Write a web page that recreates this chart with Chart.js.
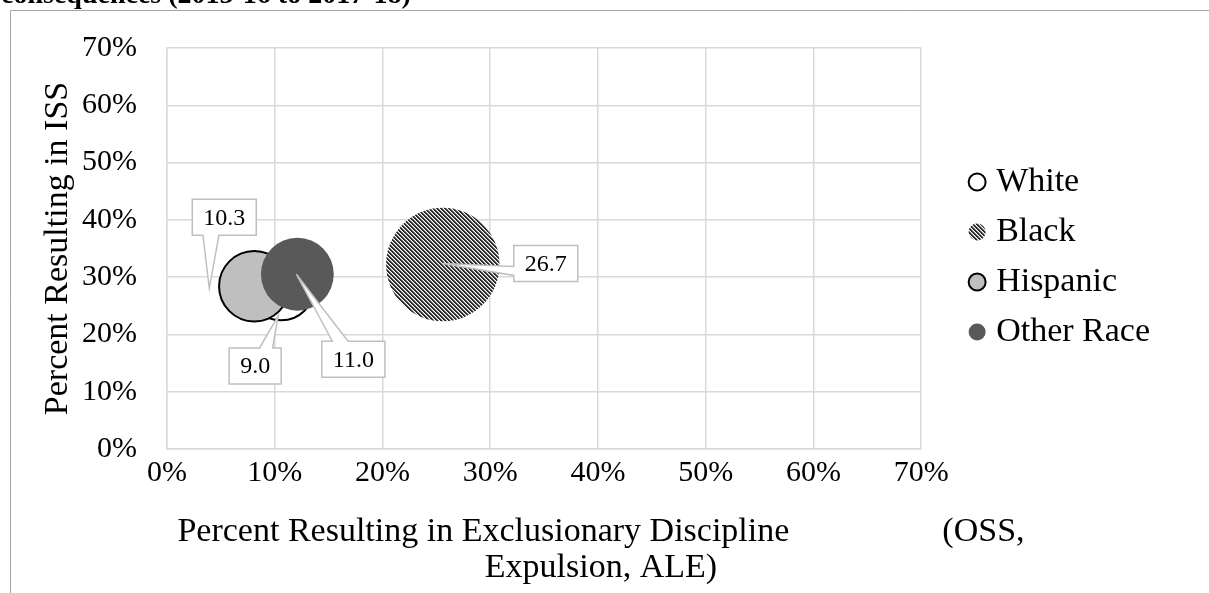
<!DOCTYPE html>
<html>
<head>
<meta charset="utf-8">
<script src="https://cdn.jsdelivr.net/npm/chart.js@4.4.1/dist/chart.umd.min.js"></script>
<style>
  html, body { margin: 0; padding: 0; background: #fff; }
  #wrap { position: relative; width: 1209px; height: 593px; }
</style>
</head>
<body>
<div id="wrap"><canvas id="chart"></canvas></div>
<script>
// Race groups, their rates (percent) and bubble sizes (percent of referrals)
const categories = ['White', 'Black', 'Hispanic', 'Other Race'];
const exclusionaryPct = [10.6, 25.6, 8.1, 12.1];
const issPct = [28.2, 32.2, 28.4, 30.5];
const sizeValues = [9.0, 26.7, 10.3, 11.0];
const axisTicks = [0, 10, 20, 30, 40, 50, 60, 70];

const SERIF = '"Liberation Serif", "Times New Roman", serif';
const GRID = '#d9d9d9';
const MAX_RADIUS = 56.7;

// wide downward diagonal hatch for the Black series
function makeStripes() {
  const tile = document.createElement('canvas');
  tile.width = 4; tile.height = 4;
  const t = tile.getContext('2d');
  const shades = ['#2b2b2b', '#2b2b2b', '#9a9a9a', '#ffffff'];
  for (let y = 0; y < 4; y++) {
    for (let x = 0; x < 4; x++) {
      t.fillStyle = shades[(((x - y) % 4) + 4) % 4];
      t.fillRect(x, y, 1, 1);
    }
  }
  return document.getElementById('chart').getContext('2d').createPattern(tile, 'repeat');
}
const stripes = makeStripes();

const fills = ['#ffffff', stripes, '#bfbfbf', '#595959'];
const strokes = ['#000000', 'rgba(0,0,0,0)', '#000000', '#595959'];
const strokeWidths = [2, 0, 2, 0];
// later series are painted over earlier ones
const drawOrder = [3, 2, 1, 0];

// callout boxes: box centre and pointer tip, relative to the bubble centre
const calloutLayout = [
  { dx: -26, dy: 78.5, tx: -3, ty: 28.5 },
  { dx: 103, dy: -1, tx: 0, ty: -1 },
  { dx: -30, dy: -69, tx: -45, ty: 2 },
  { dx: 56, dy: 85, tx: -1, ty: 0 }
];

const maxSize = Math.max(...sizeValues);
const datasets = categories.map((name, i) => ({
  label: name,
  data: [{ x: exclusionaryPct[i], y: issPct[i], r: MAX_RADIUS * Math.sqrt(sizeValues[i] / maxSize) }],
  backgroundColor: fills[i],
  borderColor: strokes[i],
  borderWidth: strokeWidths[i],
  order: drawOrder[i]
}));

function calloutPath(ctx, x0, y0, w, h, tx, ty) {
  const cx = x0 + w / 2, cy = y0 + h / 2;
  const rx = (tx - cx) / w, ry = (ty - cy) / h;
  const vertical = Math.abs(ry) >= Math.abs(rx);
  const edge = vertical ? (ry < 0 ? 'top' : 'bottom') : (rx < 0 ? 'left' : 'right');
  const hx = tx < cx ? [2 / 12, 5 / 12] : [7 / 12, 10 / 12];
  const hy = ty < cy ? [2 / 12, 5 / 12] : [7 / 12, 10 / 12];
  ctx.beginPath();
  ctx.moveTo(x0, y0);
  if (edge === 'top') {
    ctx.lineTo(x0 + w * hx[0], y0); ctx.lineTo(tx, ty); ctx.lineTo(x0 + w * hx[1], y0);
  }
  ctx.lineTo(x0 + w, y0);
  if (edge === 'right') {
    ctx.lineTo(x0 + w, y0 + h * hy[0]); ctx.lineTo(tx, ty); ctx.lineTo(x0 + w, y0 + h * hy[1]);
  }
  ctx.lineTo(x0 + w, y0 + h);
  if (edge === 'bottom') {
    ctx.lineTo(x0 + w * hx[1], y0 + h); ctx.lineTo(tx, ty); ctx.lineTo(x0 + w * hx[0], y0 + h);
  }
  ctx.lineTo(x0, y0 + h);
  if (edge === 'left') {
    ctx.lineTo(x0, y0 + h * hy[1]); ctx.lineTo(tx, ty); ctx.lineTo(x0, y0 + h * hy[0]);
  }
  ctx.closePath();
}

const calloutPlugin = {
  id: 'callouts',
  afterDatasetsDraw(chart) {
    const ctx = chart.ctx;
    ctx.save();
    ctx.font = '24px ' + SERIF;
    ctx.textAlign = 'center';
    ctx.textBaseline = 'middle';
    chart.data.datasets.forEach((ds, i) => {
      const el = chart.getDatasetMeta(i).data[0];
      if (!el) return;
      const text = sizeValues[i].toFixed(1);
      const lay = calloutLayout[i];
      const w = ctx.measureText(text).width + 22;
      const h = 36;
      const bx = el.x + lay.dx - w / 2;
      const by = el.y + lay.dy - h / 2;
      calloutPath(ctx, bx, by, w, h, el.x + lay.tx, el.y + lay.ty);
      ctx.fillStyle = '#ffffff';
      ctx.fill();
      ctx.strokeStyle = '#bfbfbf';
      ctx.lineWidth = 1.5;
      ctx.stroke();
      ctx.fillStyle = '#000000';
      ctx.fillText(text, bx + w / 2, by + h / 2 + 1);
    });
    ctx.restore();
  }
};

const framePlugin = {
  id: 'frame',
  beforeDraw(chart) {
    const ctx = chart.ctx;
    ctx.save();
    ctx.fillStyle = '#ffffff';
    ctx.fillRect(0, 0, chart.width, chart.height);
    ctx.fillStyle = '#000000';
    ctx.font = 'bold 28px ' + SERIF;
    ctx.textAlign = 'left';
    ctx.textBaseline = 'alphabetic';
    ctx.fillText('consequences (2015-16 to 2017-18)', 1, 3);
    ctx.strokeStyle = '#a6a6a6';
    ctx.lineWidth = 1;
    ctx.beginPath();
    ctx.moveTo(10.5, chart.height);
    ctx.lineTo(10.5, 10.5);
    ctx.lineTo(chart.width, 10.5);
    ctx.stroke();
    ctx.restore();
  }
};

// legend sits a little away from the plot; axis title is centred on the frame
const placementPlugin = {
  id: 'placement',
  afterLayout(chart) {
    const lg = chart.legend;
    if (lg) {
      const w = lg.width, h = lg.height;
      lg.left = chart.chartArea.right + 38; lg.right = lg.left + w;
      lg.top = 149; lg.bottom = lg.top + h;
    }
    const tb = chart.titleBlock;
    if (tb) { tb.left = 0; tb.right = 1202; }
  }
};

const tickFont = { family: SERIF, size: 30 };

new Chart(document.getElementById('chart'), {
  type: 'bubble',
  data: { datasets },
  plugins: [framePlugin, calloutPlugin, placementPlugin],
  options: {
    responsive: true,
    maintainAspectRatio: false,
    animation: false,
    events: [],
    layout: { autoPadding: false, padding: { top: 45, right: 87, bottom: 0, left: 0 } },
    scales: {
      x: {
        type: 'linear',
        min: 0, max: 70,
        afterBuildTicks: s => { s.ticks = axisTicks.map(v => ({ value: v })); },
        ticks: { callback: v => v + '%', font: tickFont, color: '#000', padding: 6, maxRotation: 0 },
        grid: { color: GRID, lineWidth: 1.5, drawTicks: false },
        border: { color: GRID, width: 1.5 }
      },
      y: {
        type: 'linear',
        min: 0, max: 70,
        afterBuildTicks: s => { s.ticks = axisTicks.map(v => ({ value: v })); },
        afterFit: s => { s.width = 167; },
        ticks: { callback: v => v + '%', font: tickFont, color: '#000', padding: 30 },
        grid: { color: GRID, lineWidth: 1.5, drawTicks: false },
        border: { color: GRID, width: 1.5 },
        title: {
          display: true,
          text: 'Percent Resulting in ISS',
          color: '#000',
          font: { family: SERIF, size: 34, lineHeight: 1.06 },
          padding: { top: 40, bottom: 0 }
        }
      }
    },
    plugins: {
      tooltip: { enabled: false },
      legend: {
        position: 'right',
        align: 'start',
        labels: {
          usePointStyle: true,
          pointStyle: 'circle',
          boxWidth: 4,
          boxHeight: 12,
          padding: 16,
          color: '#000',
          font: { family: SERIF, size: 34 },
          sort: (a, b) => a.datasetIndex - b.datasetIndex
        }
      },
      title: {
        display: true,
        position: 'bottom',
        text: [
          'Percent Resulting in Exclusionary Discipline' + ' '.repeat(18) + '(OSS,',
          'Expulsion, ALE)'
        ],
        color: '#000',
        font: { family: SERIF, size: 34, weight: 'normal', lineHeight: 1.06 },
        padding: { top: 17, bottom: 7 }
      }
    }
  }
});
</script>
</body>
</html>
